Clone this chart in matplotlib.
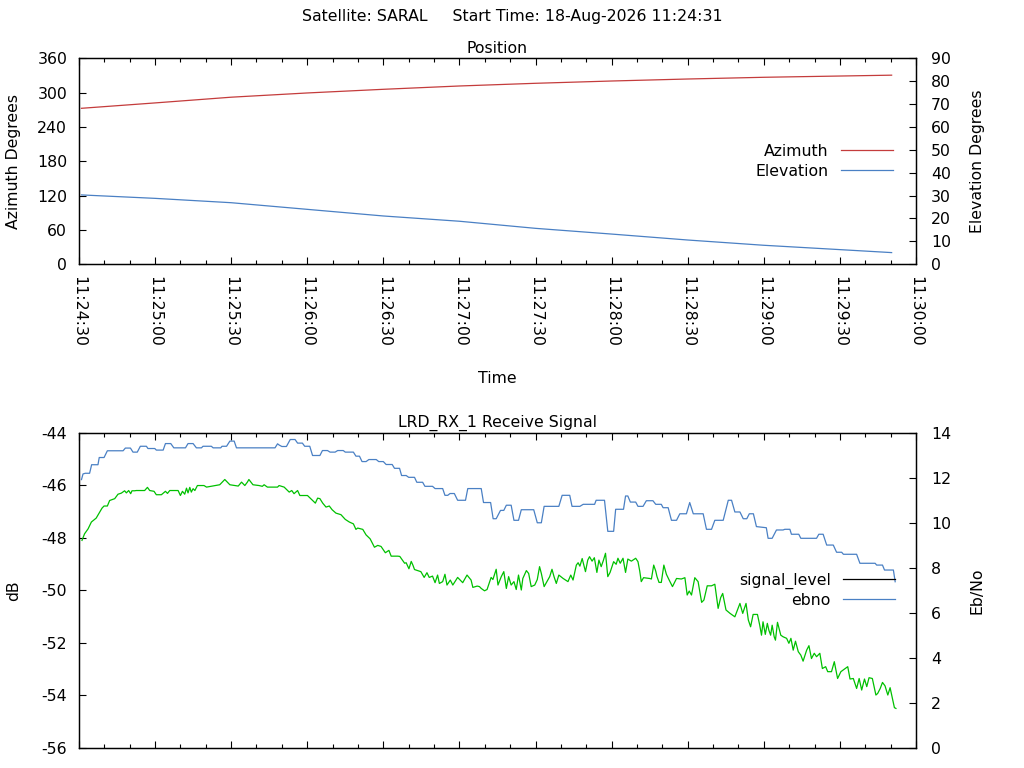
import numpy as np
import pandas as pd
import matplotlib
matplotlib.use('Agg')
import matplotlib.pyplot as plt
import matplotlib.dates as mdates
from matplotlib.lines import Line2D

plt.rcParams['font.family'] = ['DejaVu Sans']
plt.rcParams['font.size'] = 11.3
plt.rcParams['axes.unicode_minus'] = False

# ---- data (seconds after 11:24:30) ----
t0 = pd.Timestamp('2026-08-18 11:24:30')

pos_sec = [1, 30, 60, 90, 120, 150, 180, 210, 240, 270, 300, 320.4]
azimuth = [272.6, 282.0, 292.0, 299.4, 305.8, 311.6, 316.3, 320.3, 323.8, 326.8, 329.0, 330.5]
elevation = [30.3, 28.8, 26.9, 24.0, 21.1, 18.8, 15.7, 13.2, 10.6, 8.3, 6.4, 5.1]

ebno_sec = [1, 1.6, 2.5, 4.2, 5.0, 7.5, 8.0, 9.9, 11.2, 17.4, 18.3, 20.3, 21.3, 23, 24.2, 26.6,
            27.2, 29.9, 30.5, 33.2, 34.1, 36.2, 37.4, 42, 43, 45, 46.3, 48.3, 48.9, 52.2, 52.9,
            55.9, 56.4, 58.2, 59.5, 61.2, 62.1, 77.3, 78.3, 79, 80, 81.8, 83.3, 85.2, 86.2, 88.1,
            89, 91, 92.1, 95, 96, 98, 99, 101, 102, 104.2, 105, 108.2, 109.2, 110.6, 111.6, 113.2,
            114.3, 117.2, 118.2, 120, 121.1, 123.5, 124.4, 126.4, 127.2, 129, 130, 132.3, 133.2,
            135.5, 136.4, 139.4, 140.4, 143.4, 144.3, 145.4, 146.3, 148, 149.3, 152.4, 153.3,
            158.6, 159.5, 162.3, 163.3, 164.5, 166.2, 167.5, 168.5, 170.4, 171.5, 173.3, 174.4,
            179.3, 180.7, 182.3, 183.4, 189.2, 190.5, 193.5, 194.4, 197.5, 198.8, 203.3, 203.9,
            207.2, 208.5, 210.8, 211.6, 214.7, 215.5, 216.4, 217.4, 219.5, 220.4, 222.4, 223.7,
            226.3, 227.4, 229.6, 230.3, 232.3, 233.6, 235.6, 236.9, 239.5, 240.8, 242.2, 246.1,
            247.4, 249.4, 250.7, 254, 256, 257.3, 258.6, 260.6, 261.9, 263.3, 264.3, 265.9, 267.1,
            271, 271.7, 273.3, 274.6, 275, 277.6, 278.3, 280.3, 280.9, 283.8, 284.6, 290.8, 291.7,
            293.4, 294.8, 297.4, 298.7, 300.7, 301.4, 306.6, 307.9, 313.9, 314.5, 316.8, 317.6,
            321.1, 321.8]
ebno = [11.92, 12.17, 12.2, 12.2, 12.58, 12.58, 12.9, 12.9, 13.2, 13.2, 13.32, 13.32, 13.14, 13.14,
        13.4, 13.4, 13.3, 13.3, 13.23, 13.23, 13.52, 13.52, 13.33, 13.33, 13.52, 13.52, 13.33, 13.33,
        13.4, 13.4, 13.33, 13.33, 13.4, 13.4, 13.63, 13.63, 13.33, 13.33, 13.51, 13.45, 13.39, 13.39,
        13.70, 13.70, 13.54, 13.54, 13.40, 13.40, 12.99, 12.99, 13.21, 13.21, 13.14, 13.14, 13.21,
        13.21, 13.14, 13.14, 12.96, 12.96, 12.72, 12.72, 12.81, 12.81, 12.72, 12.72, 12.59, 12.59,
        12.42, 12.42, 12.10, 12.10, 12.02, 12.02, 11.80, 11.80, 11.62, 11.62, 11.52, 11.52, 11.22,
        11.22, 11.30, 11.30, 11.0, 11.0, 11.52, 11.52, 10.9, 10.9, 10.18, 10.18, 10.55, 10.55, 10.78,
        10.78, 10.11, 10.11, 10.58, 10.58, 10.0, 10.0, 10.73, 10.73, 11.22, 11.22, 10.73, 10.73,
        10.82, 10.82, 11.0, 11.0, 9.62, 9.62, 10.6, 10.6, 11.19, 11.19, 10.92, 10.92, 10.73, 10.73,
        10.98, 10.98, 10.82, 10.82, 10.67, 10.67, 10.11, 10.11, 10.40, 10.40, 10.9, 10.40, 10.40,
        9.71, 9.71, 10.11, 10.11, 11.0, 11.0, 10.48, 10.48, 10.18, 10.18, 10.40, 10.40, 9.83, 9.78,
        9.31, 9.31, 9.6, 9.68, 9.68, 9.71, 9.71, 9.49, 9.49, 9.31, 9.31, 9.49, 9.49, 9.01, 9.01,
        8.69, 8.69, 8.60, 8.60, 8.2, 8.2, 8.12, 8.12, 7.9, 7.9, 7.38]

signal_sec = [1.2, 2.2, 3.6, 4.9, 6.8, 8.2, 9.1, 9.9, 11.2, 12.1, 14.1, 15.4, 16.7, 18.0, 18.7, 19.6,
              20.4, 20.9, 22.0, 22.6, 25.9, 27.0, 27.9, 29.6, 30.5, 32.5, 34.1, 34.9, 35.8, 39.1,
              40.0, 40.8, 41.7, 42.4, 43.0, 43.7, 44.3, 45.0, 45.7, 46.7, 49.3, 50.3, 55.5, 57.5,
              59.5, 61.4, 62.8, 64.1, 65.4, 66.4, 67.0, 68.6, 71.0, 72.3, 73.0, 74.3, 78.3, 78.9,
              80.9, 82.9, 83.9, 84.8, 86.2, 87.1, 90.1, 91.4, 93.2, 94.1, 95.0, 96.1, 97.4, 98.7,
              99.8, 101.3, 103.3, 105.0, 106.6, 108.2, 109.2, 109.9, 111.9, 113.2, 114.8, 116.5,
              117.8, 119.1, 120.8, 122.2, 123.1, 125.7, 126.5, 128.4, 129.0, 130.1, 131.0, 131.7,
              132.3, 134.8, 136.1, 137.2, 138.1, 139.4, 140.4, 141.4, 142.1, 143.4, 144.3, 145.1,
              146.4, 147.4, 149.3, 151.3, 153.0, 154.6, 155.3, 157.0, 157.9, 158.6, 159.9, 160.9,
              162.5, 163.2, 164.5, 165.2, 166.5, 167.5, 168.5, 169.4, 170.4, 171.5, 172.4, 173.3,
              174.4, 175.0, 176.4, 177.3, 178.3, 179.7, 180.7, 181.6, 182.3, 183.4, 184.7, 185.6,
              186.5, 187.3, 188.2, 189.2, 190.9, 192.8, 193.9, 194.8, 196.1, 196.8, 197.5, 198.4,
              199.7, 200.6, 201.3, 202.3, 203.2, 204.2, 205.0, 205.9, 206.8, 207.6, 208.5, 209.4,
              210.8, 211.8, 212.5, 213.4, 214.5, 215.5, 216.4, 217.8, 219.5, 220.4, 221.1, 221.7,
              222.6, 225.0, 225.7, 226.6, 227.4, 227.9, 228.7, 229.6, 230.6, 231.6, 232.7, 234.0,
              235.6, 237.5, 238.9, 239.8, 240.6, 241.5, 242.8, 244.1, 245.5, 246.4, 247.7, 249.4,
              250.7, 252.0, 253.0, 253.8, 255.1, 256.7, 258.6, 260.6, 261.7, 263.0, 263.9, 264.8,
              265.8, 267.5, 268.4, 269.1, 269.7, 270.6, 271.4, 272.0, 272.7, 273.3, 274.1, 274.6,
              275.4, 276.7, 277.6, 279.0, 279.9, 280.7, 281.6, 282.5, 283.6, 284.6, 285.5, 286.9,
              287.8, 288.8, 289.9, 290.8, 292.1, 293.1, 294.4, 295.2, 296.7, 297.8, 299.1, 300.4,
              301.8, 303.1, 304.0, 305.3, 306.6, 307.6, 308.6, 309.7, 310.6, 311.5, 312.8, 314.2,
              314.9, 315.9, 316.8, 317.8, 318.9, 319.8, 320.7, 321.5, 322.1]
signal_level = [-48.10, -47.85, -47.66, -47.40, -47.25, -47.02, -46.87, -46.79, -46.79, -46.58,
                -46.51, -46.34, -46.30, -46.21, -46.29, -46.20, -46.32, -46.21, -46.21, -46.20,
                -46.20, -46.08, -46.20, -46.23, -46.36, -46.36, -46.23, -46.31, -46.20, -46.20,
                -46.39, -46.23, -46.34, -46.11, -46.29, -46.08, -46.26, -46.13, -46.20, -46.01,
                -46.01, -46.07, -45.98, -45.78, -45.98, -46.01, -46.03, -45.88, -46.01, -45.88,
                -45.78, -45.98, -46.01, -46.04, -45.98, -46.07, -46.07, -46.01, -46.07, -46.26,
                -46.20, -46.32, -46.20, -46.39, -46.39, -46.51, -46.68, -46.49, -46.51, -46.68,
                -46.83, -46.79, -46.93, -47.06, -47.12, -47.30, -47.40, -47.47, -47.68, -47.63,
                -47.68, -47.89, -48.04, -48.36, -48.29, -48.33, -48.57, -48.48, -48.70, -48.70,
                -48.71, -48.97, -48.95, -49.18, -48.90, -49.05, -49.21, -49.29, -49.51, -49.33,
                -49.51, -49.46, -49.71, -49.42, -49.74, -49.67, -49.39, -49.80, -49.61, -49.80,
                -49.51, -49.71, -49.42, -49.61, -49.89, -49.84, -49.86, -49.93, -50.02, -49.97,
                -49.51, -49.59, -49.20, -49.80, -49.48, -49.29, -49.93, -49.48, -49.80, -49.67,
                -49.97, -49.42, -49.99, -49.55, -49.25, -49.36, -49.86, -49.80, -49.59, -49.10,
                -49.36, -49.86, -49.64, -49.48, -49.20, -49.48, -49.74, -49.42, -49.55, -49.67,
                -49.42, -49.61, -49.04, -48.95, -49.08, -48.79, -49.29, -48.85, -48.72, -48.89,
                -48.76, -49.32, -48.85, -49.10, -48.85, -48.59, -49.48, -49.32, -48.91, -49.01,
                -48.78, -48.97, -48.78, -49.32, -48.81, -48.89, -48.78, -48.91, -49.27, -49.67,
                -49.52, -49.55, -49.57, -49.04, -49.27, -49.48, -49.70, -49.70, -49.04, -49.39,
                -49.61, -49.86, -49.55, -49.57, -49.52, -50.18, -50.03, -50.18, -49.52, -49.67,
                -50.46, -50.37, -49.83, -49.83, -49.77, -50.69, -50.28, -50.12, -50.75, -50.88,
                -51.01, -50.50, -50.88, -50.50, -51.13, -51.39, -50.92, -50.92, -51.33, -51.71,
                -51.20, -51.68, -51.26, -51.52, -51.71, -51.33, -51.77, -51.90, -51.22, -51.71,
                -51.77, -51.83, -52.02, -51.83, -52.28, -51.94, -52.34, -52.47, -52.70, -52.28,
                -52.11, -52.60, -52.40, -52.53, -52.40, -52.98, -52.91, -53.10, -53.10, -52.72,
                -53.36, -53.10, -53.00, -52.91, -53.38, -53.36, -53.74, -53.36, -53.80, -53.38,
                -53.67, -53.33, -53.36, -53.99, -53.93, -53.74, -53.51, -53.64, -53.99, -53.71,
                -54.12, -54.47, -54.50]


def to_time(sec):
    return t0 + pd.to_timedelta(np.asarray(sec, dtype=float), unit='s')


red = '#c43c3c'
blue = '#4a80c4'
green = '#00c000'
lw = 0.9

fig = plt.figure(figsize=(10.24, 7.68), dpi=100)
fig.suptitle('Satellite: SARAL     Start Time: 18-Aug-2026 11:24:31', y=0.978, va='center',
             fontsize=11.3)

ax1 = fig.add_axes([0.0771, 0.6559, 0.8174, 0.2682])
ax2 = fig.add_axes([0.0771, 0.0263, 0.8174, 0.4102])

xmin, xmax = t0, t0 + pd.Timedelta(seconds=330)


def style_x(ax, labels):
    ax.set_xlim(xmin, xmax)
    ax.xaxis.set_major_locator(mdates.SecondLocator(bysecond=[0, 30]))
    ax.xaxis.set_minor_locator(mdates.SecondLocator(bysecond=[10, 20, 40, 50]))
    ax.xaxis.set_major_formatter(mdates.DateFormatter('%H:%M:%S'))
    ax.tick_params(axis='x', which='both', direction='in', top=True, bottom=True,
                   labelbottom=labels, pad=8.5)
    ax.tick_params(axis='x', which='major', length=4.8, width=0.8)
    ax.tick_params(axis='x', which='minor', length=2.6, width=0.8)
    if labels:
        for lb in ax.get_xticklabels():
            lb.set_rotation(270)
            lb.set_va('top')
            lb.set_ha('center')


# ---- Position ----
ax1.plot(to_time(pos_sec), azimuth, color=red, lw=lw)
ax1.set_ylim(0, 360)
ax1.set_yticks(np.arange(0, 361, 60))
ax1.tick_params(axis='y', direction='in', length=4.8, width=0.8, pad=8.5)
ax1.set_ylabel('Azimuth Degrees')
ax1.yaxis.set_label_coords(-0.0693, 0.5)
ax1.set_title('Position', fontsize=11.3, pad=4)
style_x(ax1, True)
ax1.set_xlabel('Time', labelpad=17.5)

ax1r = ax1.twinx()
ax1r.plot(to_time(pos_sec), elevation, color=blue, lw=lw)
ax1r.set_ylim(0, 90)
ax1r.set_yticks(np.arange(0, 91, 10))
ax1r.tick_params(axis='y', direction='in', length=4.8, width=0.8, pad=11)
ax1r.set_ylabel('Elevation Degrees')
ax1r.yaxis.set_label_coords(1.0645, 0.5)

h1 = [Line2D([], [], color=red, lw=lw), Line2D([], [], color=blue, lw=lw)]
ax1r.legend(h1, ['Azimuth', 'Elevation'], loc='center right', bbox_to_anchor=(0.9725, 0.5),
            frameon=False, markerfirst=False, handlelength=3.3, handletextpad=0.8,
            labelspacing=0.3, borderpad=0, borderaxespad=0, fontsize=11.3)

# ---- Receive signal ----
ax2.plot(to_time(signal_sec), signal_level, color=green, lw=lw)
ax2.set_ylim(-56, -44)
ax2.set_yticks(np.arange(-56, -43, 2))
ax2.tick_params(axis='y', direction='in', length=4.8, width=0.8, pad=8.5)
ax2.set_ylabel('dB')
ax2.yaxis.set_label_coords(-0.0693, 0.5)
ax2.set_title('LRD_RX_1 Receive Signal', fontsize=11.3, pad=4)
style_x(ax2, False)

ax2r = ax2.twinx()
ax2r.plot(to_time(ebno_sec), ebno, color=blue, lw=lw)
ax2r.set_ylim(0, 14)
ax2r.set_yticks(np.arange(0, 15, 2))
ax2r.tick_params(axis='y', direction='in', length=4.8, width=0.8, pad=11)
ax2r.set_ylabel('Eb/No')
ax2r.yaxis.set_label_coords(1.0645, 0.5)

h2 = [Line2D([], [], color='black', lw=lw), Line2D([], [], color=blue, lw=lw)]
ax2r.legend(h2, ['signal_level', 'ebno'], loc='center right', bbox_to_anchor=(0.975, 0.5),
            frameon=False, markerfirst=False, handlelength=3.3, handletextpad=0.8,
            labelspacing=0.25, borderpad=0, borderaxespad=0, fontsize=11.3)

for ax in (ax1, ax1r, ax2, ax2r):
    for s in ax.spines.values():
        s.set_linewidth(0.9)

fig.savefig('out.png', dpi=100)
